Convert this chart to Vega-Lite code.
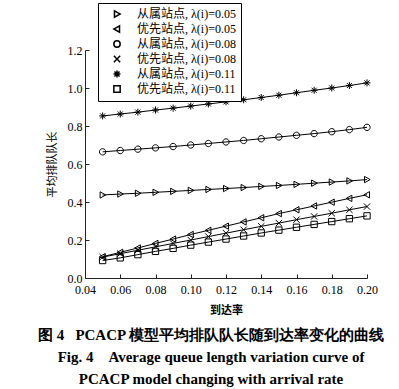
{
"$schema": "https://vega.github.io/schema/vega-lite/v6.json",
"width": 282, "height": 228,
"autosize": "none",
"padding": {"left": 85, "top": 50, "right": 32, "bottom": 111},
"background": "white",
"config": {"font": "Liberation Serif", "view": {"stroke": null}, "legend": {"rowPadding": 1, "labelOffset": 14, "symbolOffset": 8, "padding": 5}},
"title": {"text": ["图 4\u00a0\u00a0\u00a0PCACP 模型平均排队队长随到达率变化的曲线", "Fig. 4\u00a0\u00a0\u00a0\u00a0Average queue length variation curve of", "PCACP model changing with arrival rate"], "orient": "bottom", "anchor": "middle", "frame": "group", "font": "Liberation Serif", "fontSize": 15, "fontWeight": "bold", "lineHeight": 22, "offset": 13, "dx": -15, "color": "black"},
"data": {"values": [
{"rate":0.05,"len":0.437,"series":"从属站点, λ(i)=0.05"},{"rate":0.06,"len":0.442,"series":"从属站点, λ(i)=0.05"},{"rate":0.07,"len":0.446,"series":"从属站点, λ(i)=0.05"},{"rate":0.08,"len":0.451,"series":"从属站点, λ(i)=0.05"},{"rate":0.09,"len":0.456,"series":"从属站点, λ(i)=0.05"},{"rate":0.10,"len":0.461,"series":"从属站点, λ(i)=0.05"},{"rate":0.11,"len":0.466,"series":"从属站点, λ(i)=0.05"},{"rate":0.12,"len":0.471,"series":"从属站点, λ(i)=0.05"},{"rate":0.13,"len":0.476,"series":"从属站点, λ(i)=0.05"},{"rate":0.14,"len":0.482,"series":"从属站点, λ(i)=0.05"},{"rate":0.15,"len":0.487,"series":"从属站点, λ(i)=0.05"},{"rate":0.16,"len":0.493,"series":"从属站点, λ(i)=0.05"},{"rate":0.17,"len":0.499,"series":"从属站点, λ(i)=0.05"},{"rate":0.18,"len":0.505,"series":"从属站点, λ(i)=0.05"},{"rate":0.19,"len":0.511,"series":"从属站点, λ(i)=0.05"},{"rate":0.20,"len":0.518,"series":"从属站点, λ(i)=0.05"},
{"rate":0.05,"len":0.112,"series":"优先站点, λ(i)=0.05"},{"rate":0.06,"len":0.135,"series":"优先站点, λ(i)=0.05"},{"rate":0.07,"len":0.158,"series":"优先站点, λ(i)=0.05"},{"rate":0.08,"len":0.182,"series":"优先站点, λ(i)=0.05"},{"rate":0.09,"len":0.205,"series":"优先站点, λ(i)=0.05"},{"rate":0.10,"len":0.229,"series":"优先站点, λ(i)=0.05"},{"rate":0.11,"len":0.251,"series":"优先站点, λ(i)=0.05"},{"rate":0.12,"len":0.273,"series":"优先站点, λ(i)=0.05"},{"rate":0.13,"len":0.295,"series":"优先站点, λ(i)=0.05"},{"rate":0.14,"len":0.317,"series":"优先站点, λ(i)=0.05"},{"rate":0.15,"len":0.339,"series":"优先站点, λ(i)=0.05"},{"rate":0.16,"len":0.359,"series":"优先站点, λ(i)=0.05"},{"rate":0.17,"len":0.379,"series":"优先站点, λ(i)=0.05"},{"rate":0.18,"len":0.399,"series":"优先站点, λ(i)=0.05"},{"rate":0.19,"len":0.419,"series":"优先站点, λ(i)=0.05"},{"rate":0.20,"len":0.438,"series":"优先站点, λ(i)=0.05"},
{"rate":0.05,"len":0.664,"series":"从属站点, λ(i)=0.08"},{"rate":0.06,"len":0.671,"series":"从属站点, λ(i)=0.08"},{"rate":0.07,"len":0.678,"series":"从属站点, λ(i)=0.08"},{"rate":0.08,"len":0.685,"series":"从属站点, λ(i)=0.08"},{"rate":0.09,"len":0.692,"series":"从属站点, λ(i)=0.08"},{"rate":0.10,"len":0.700,"series":"从属站点, λ(i)=0.08"},{"rate":0.11,"len":0.708,"series":"从属站点, λ(i)=0.08"},{"rate":0.12,"len":0.716,"series":"从属站点, λ(i)=0.08"},{"rate":0.13,"len":0.724,"series":"从属站点, λ(i)=0.08"},{"rate":0.14,"len":0.733,"series":"从属站点, λ(i)=0.08"},{"rate":0.15,"len":0.742,"series":"从属站点, λ(i)=0.08"},{"rate":0.16,"len":0.751,"series":"从属站点, λ(i)=0.08"},{"rate":0.17,"len":0.760,"series":"从属站点, λ(i)=0.08"},{"rate":0.18,"len":0.770,"series":"从属站点, λ(i)=0.08"},{"rate":0.19,"len":0.781,"series":"从属站点, λ(i)=0.08"},{"rate":0.20,"len":0.793,"series":"从属站点, λ(i)=0.08"},
{"rate":0.05,"len":0.110,"series":"优先站点, λ(i)=0.08"},{"rate":0.06,"len":0.128,"series":"优先站点, λ(i)=0.08"},{"rate":0.07,"len":0.146,"series":"优先站点, λ(i)=0.08"},{"rate":0.08,"len":0.164,"series":"优先站点, λ(i)=0.08"},{"rate":0.09,"len":0.182,"series":"优先站点, λ(i)=0.08"},{"rate":0.10,"len":0.200,"series":"优先站点, λ(i)=0.08"},{"rate":0.11,"len":0.218,"series":"优先站点, λ(i)=0.08"},{"rate":0.12,"len":0.236,"series":"优先站点, λ(i)=0.08"},{"rate":0.13,"len":0.254,"series":"优先站点, λ(i)=0.08"},{"rate":0.14,"len":0.272,"series":"优先站点, λ(i)=0.08"},{"rate":0.15,"len":0.289,"series":"优先站点, λ(i)=0.08"},{"rate":0.16,"len":0.307,"series":"优先站点, λ(i)=0.08"},{"rate":0.17,"len":0.324,"series":"优先站点, λ(i)=0.08"},{"rate":0.18,"len":0.341,"series":"优先站点, λ(i)=0.08"},{"rate":0.19,"len":0.359,"series":"优先站点, λ(i)=0.08"},{"rate":0.20,"len":0.376,"series":"优先站点, λ(i)=0.08"},
{"rate":0.05,"len":0.853,"series":"从属站点, λ(i)=0.11"},{"rate":0.06,"len":0.863,"series":"从属站点, λ(i)=0.11"},{"rate":0.07,"len":0.873,"series":"从属站点, λ(i)=0.11"},{"rate":0.08,"len":0.884,"series":"从属站点, λ(i)=0.11"},{"rate":0.09,"len":0.894,"series":"从属站点, λ(i)=0.11"},{"rate":0.10,"len":0.905,"series":"从属站点, λ(i)=0.11"},{"rate":0.11,"len":0.916,"series":"从属站点, λ(i)=0.11"},{"rate":0.12,"len":0.927,"series":"从属站点, λ(i)=0.11"},{"rate":0.13,"len":0.938,"series":"从属站点, λ(i)=0.11"},{"rate":0.14,"len":0.950,"series":"从属站点, λ(i)=0.11"},{"rate":0.15,"len":0.962,"series":"从属站点, λ(i)=0.11"},{"rate":0.16,"len":0.975,"series":"从属站点, λ(i)=0.11"},{"rate":0.17,"len":0.988,"series":"从属站点, λ(i)=0.11"},{"rate":0.18,"len":1.000,"series":"从属站点, λ(i)=0.11"},{"rate":0.19,"len":1.013,"series":"从属站点, λ(i)=0.11"},{"rate":0.20,"len":1.027,"series":"从属站点, λ(i)=0.11"},
{"rate":0.05,"len":0.092,"series":"优先站点, λ(i)=0.11"},{"rate":0.06,"len":0.106,"series":"优先站点, λ(i)=0.11"},{"rate":0.07,"len":0.123,"series":"优先站点, λ(i)=0.11"},{"rate":0.08,"len":0.140,"series":"优先站点, λ(i)=0.11"},{"rate":0.09,"len":0.156,"series":"优先站点, λ(i)=0.11"},{"rate":0.10,"len":0.173,"series":"优先站点, λ(i)=0.11"},{"rate":0.11,"len":0.189,"series":"优先站点, λ(i)=0.11"},{"rate":0.12,"len":0.205,"series":"优先站点, λ(i)=0.11"},{"rate":0.13,"len":0.221,"series":"优先站点, λ(i)=0.11"},{"rate":0.14,"len":0.237,"series":"优先站点, λ(i)=0.11"},{"rate":0.15,"len":0.252,"series":"优先站点, λ(i)=0.11"},{"rate":0.16,"len":0.267,"series":"优先站点, λ(i)=0.11"},{"rate":0.17,"len":0.282,"series":"优先站点, λ(i)=0.11"},{"rate":0.18,"len":0.297,"series":"优先站点, λ(i)=0.11"},{"rate":0.19,"len":0.312,"series":"优先站点, λ(i)=0.11"},{"rate":0.20,"len":0.327,"series":"优先站点, λ(i)=0.11"}
]},
"encoding": {
  "x": {"field": "rate", "type": "quantitative", "scale": {"domain": [0.04, 0.2], "nice": false, "zero": false},
        "axis": {"title": "到达率", "titleFont": "Noto Sans CJK SC", "titleFontSize": 11, "titleFontWeight": "bold", "titleColor": "black", "titlePadding": 9,
                 "values": [0.04, 0.06, 0.08, 0.1, 0.12, 0.14, 0.16, 0.18, 0.2], "format": ".2f", "labelFont": "Liberation Serif", "labelFontSize": 12, "labelColor": "black", "labelFlush": false,
                 "tickSize": -4, "tickColor": "#222", "domainColor": "#222", "grid": false, "labelPadding": 10}},
  "y": {"field": "len", "type": "quantitative", "scale": {"domain": [0, 1.2], "nice": false},
        "axis": {"title": "平均排队队长", "titleFont": "Noto Sans CJK SC", "titleFontSize": 11, "titleFontWeight": "normal", "titleColor": "black", "titlePadding": 10,
                 "values": [0, 0.2, 0.4, 0.6, 0.8, 1.0, 1.2], "format": ".1f", "labelFont": "Liberation Serif", "labelFontSize": 12, "labelColor": "black", "labelFlush": false,
                 "tickSize": -4, "tickColor": "#222", "domainColor": "#222", "grid": false, "labelPadding": 7}}
},
"layer": [
  {"mark": {"type": "line", "color": "black", "strokeWidth": 1}, "encoding": {"detail": {"field": "series", "type": "nominal"}}},
  {"mark": {"type": "point", "color": "black", "strokeWidth": 1, "size": 40, "opacity": 1},
   "encoding": {"shape": {"field": "series", "type": "nominal",
      "scale": {"domain": ["从属站点, λ(i)=0.05", "优先站点, λ(i)=0.05", "从属站点, λ(i)=0.08", "优先站点, λ(i)=0.08", "从属站点, λ(i)=0.11", "优先站点, λ(i)=0.11"],
                "range": ["M-0.8,-1L1,0L-0.8,1Z", "M0.8,-1L-1,0L0.8,1Z", "M-1,0A1,1,0,1,1,1,0A1,1,0,1,1,-1,0Z", "M-1,-1L1,1M-1,1L1,-1", "M0,-1.1L0,1.1M-1.1,0L1.1,0M-0.8,-0.8L0.8,0.8M-0.8,0.8L0.8,-0.8", "M-1,-1L1,-1L1,1L-1,1Z"]},
      "legend": {"title": null, "orient": "none", "legendX": 13, "legendY": -47, "strokeColor": "black", "fillColor": "white",
                 "labelFont": "Liberation Serif, Noto Sans CJK SC", "labelFontSize": 12, "labelColor": "black", "labelLimit": 200,
                 "symbolSize": 40}}}}
]
}
